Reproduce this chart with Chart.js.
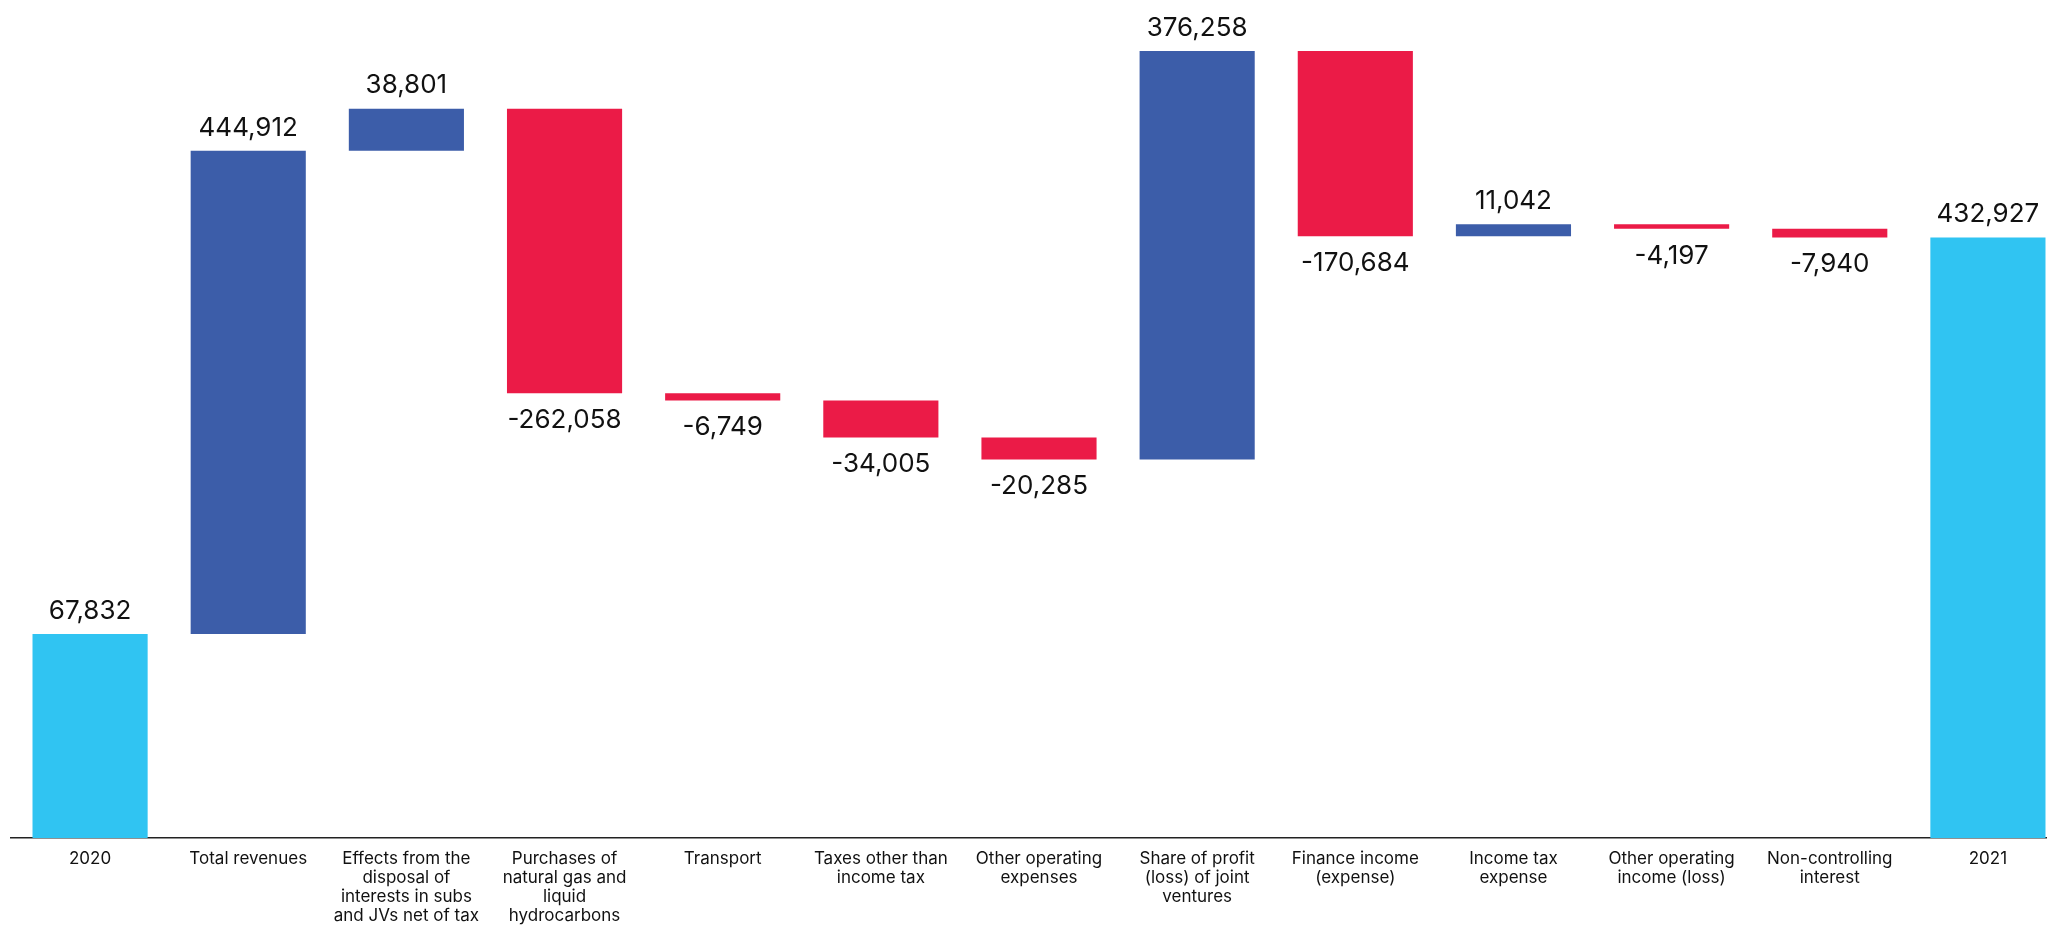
<!DOCTYPE html>
<html>
<head>
<meta charset="utf-8">
<script src="https://cdn.jsdelivr.net/npm/chart.js@4.4.1/dist/chart.umd.min.js"></script>
<style>
  html, body { margin: 0; padding: 0; background: #fff; overflow: hidden; }
  #wrap { width: 2067px; height: 925px; position: relative; }
</style>
</head>
<body>
<div id="wrap"><canvas id="chartBridge"></canvas></div>
<script>
// 净利润桥：2020 -> 2021
const categories = [
  ['2020'],
  ['Total revenues'],
  ['Effects from the', 'disposal of', 'interests in subs', 'and JVs net of tax'],
  ['Purchases of', 'natural gas and', 'liquid', 'hydrocarbons'],
  ['Transport'],
  ['Taxes other than', 'income tax'],
  ['Other operating', 'expenses'],
  ['Share of profit', '(loss) of joint', 'ventures'],
  ['Finance income', '(expense)'],
  ['Income tax', 'expense'],
  ['Other operating', 'income (loss)'],
  ['Non-controlling', 'interest'],
  ['2021']
];
const values = [67832, 444912, 38801, -262058, -6749, -34005, -20285, 376258, -170684, 11042, -4197, -7940, 432927];
const isTotal = [true, false, false, false, false, false, false, false, false, false, false, false, true];

const AXIS_MIN = -120000, AXIS_MAX = 651600;
const COLOR_TOTAL = '#30C4F2', COLOR_UP = '#3C5DA9', COLOR_DOWN = '#EB1B47';

// 累计值 -> 浮动柱区间；首尾合计柱从坐标轴底部画起
let running = 0;
const ranges = values.map((v, i) => {
  if (isTotal[i]) { running = v; return [AXIS_MIN, v]; }
  const start = running;
  running += v;
  return [start, running];
});
const colors = values.map((v, i) => isTotal[i] ? COLOR_TOTAL : (v >= 0 ? COLOR_UP : COLOR_DOWN));

const valueLabels = {
  id: 'valueLabels',
  afterDatasetsDraw(chart) {
    const ctx = chart.ctx;
    const meta = chart.getDatasetMeta(0);
    ctx.save();
    ctx.font = '26px Inter';
    ctx.fillStyle = '#111';
    ctx.textAlign = 'center';
    ctx.textBaseline = 'middle';
    meta.data.forEach((bar, i) => {
      const top = Math.min(bar.y, bar.base);
      const bottom = Math.max(bar.y, bar.base);
      const txt = values[i].toLocaleString('en-US');
      if (values[i] >= 0) ctx.fillText(txt, bar.x, top - 23);
      else ctx.fillText(txt, bar.x, bottom + 27);
    });
    ctx.restore();
  }
};

new Chart(document.getElementById('chartBridge'), {
  type: 'bar',
  data: {
    labels: categories,
    datasets: [{
      data: ranges,
      backgroundColor: colors,
      borderWidth: 0,
      barPercentage: 0.728,
      categoryPercentage: 1
    }]
  },
  options: {
    responsive: true,
    maintainAspectRatio: false,
    animation: false,
    layout: { padding: { left: 11, right: 0, top: 0, bottom: 0 } },
    plugins: { legend: { display: false }, tooltip: { enabled: false } },
    scales: {
      x: {
        grid: { display: false, drawTicks: false },
        border: { display: true, color: '#222', width: 1.5 },
        ticks: {
          padding: 11,
          maxRotation: 0,
          autoSkip: false,
          color: '#111',
          font: { family: 'Inter', size: 17, lineHeight: 1.12 }
        },
        afterFit(scale) { scale.height = 87; }
      },
      y: {
        display: false,
        min: AXIS_MIN,
        max: AXIS_MAX
      }
    }
  },
  plugins: [valueLabels]
});
</script>
</body>
</html>
